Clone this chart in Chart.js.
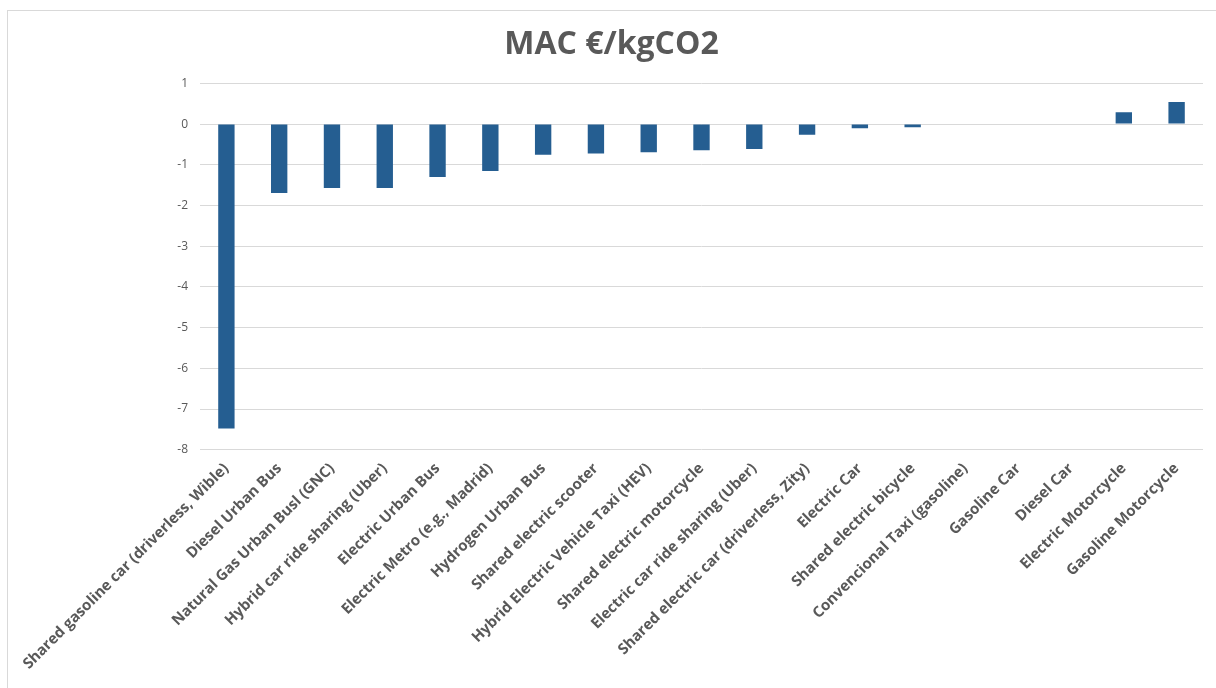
<!DOCTYPE html>
<html>
<head>
<meta charset="utf-8">
<script src="https://cdn.jsdelivr.net/npm/chart.js@4"></script>
<style>
  html, body { margin: 0; padding: 0; background: #ffffff; }
  #wrap { position: relative; width: 1216px; height: 688px; overflow: hidden; }
  #frame { position: absolute; left: 7px; top: 10px; width: 1220px; height: 700px; border: 1px solid #d9d9d9; box-sizing: border-box; }
  canvas { position: absolute; left: 0; top: 0; }
</style>
</head>
<body>
<div id="wrap">
  <div id="frame"></div>
  <canvas id="c" width="1216" height="688"></canvas>
</div>
<script>
const chartTitle = "MAC €/kgCO2";

const categories = [
  "Shared gasoline car (driverless, Wible)",
  "Diesel Urban Bus",
  "Natural Gas Urban Busl (GNC)",
  "Hybrid car ride sharing (Uber)",
  "Electric Urban Bus",
  "Electric Metro (e.g., Madrid)",
  "Hydrogen Urban Bus",
  "Shared electric scooter",
  "Hybrid Electric Vehicle Taxi (HEV)",
  "Shared electric motorcycle",
  "Electric car ride sharing (Uber)",
  "Shared electric car (driverless, Zity)",
  "Electric Car",
  "Shared electric bicycle",
  "Convencional Taxi (gasoline)",
  "Gasoline Car",
  "Diesel Car",
  "Electric Motorcycle",
  "Gasoline Motorcycle"
];

const macValues = [
  -7.48, -1.69, -1.57, -1.57, -1.30, -1.15, -0.75, -0.72, -0.69, -0.64,
  -0.61, -0.26, -0.10, -0.08, 0, 0, 0, 0.29, 0.54
];

const yMin = -8;
const yMax = 1;
const yStep = 1;

const ctx = document.getElementById('c').getContext('2d');
new Chart(ctx, {
  type: 'bar',
  data: {
    labels: categories,
    datasets: [{
      label: chartTitle,
      data: macValues,
      backgroundColor: '#255e91',
      borderWidth: 0,
      categoryPercentage: 1.0,
      barPercentage: 0.31
    }]
  },
  options: {
    responsive: false,
    animation: false,
    devicePixelRatio: 1,
    layout: { padding: { top: 10, right: 13, bottom: 0, left: 20 } },
    plugins: {
      legend: { display: false },
      tooltip: { enabled: false },
      title: {
        display: true,
        text: chartTitle,
        color: '#595959',
        font: { family: "'Open Sans', sans-serif", size: 32, weight: 'bold', lineHeight: 1.2 },
        padding: { top: 16, bottom: 19 }
      }
    },
    scales: {
      x: {
        grid: { display: false },
        border: { display: false },
        ticks: {
          autoSkip: false,
          minRotation: 45,
          maxRotation: 45,
          padding: 2,
          color: '#595959',
          font: { family: "'Open Sans', sans-serif", size: 15, weight: 'bold' }
        },
        afterFit: (s) => { s.height = 688 - 449.7; }
      },
      y: {
        min: yMin,
        max: yMax,
        grid: { color: '#d9d9d9', lineWidth: 1, drawTicks: false },
        border: { display: false },
        ticks: {
          stepSize: yStep,
          padding: 12,
          color: '#595959',
          font: { family: "'Open Sans', sans-serif", size: 12 }
        },
        afterFit: (s) => { s.width = 180; }
      }
    }
  }
});
</script>
</body>
</html>
